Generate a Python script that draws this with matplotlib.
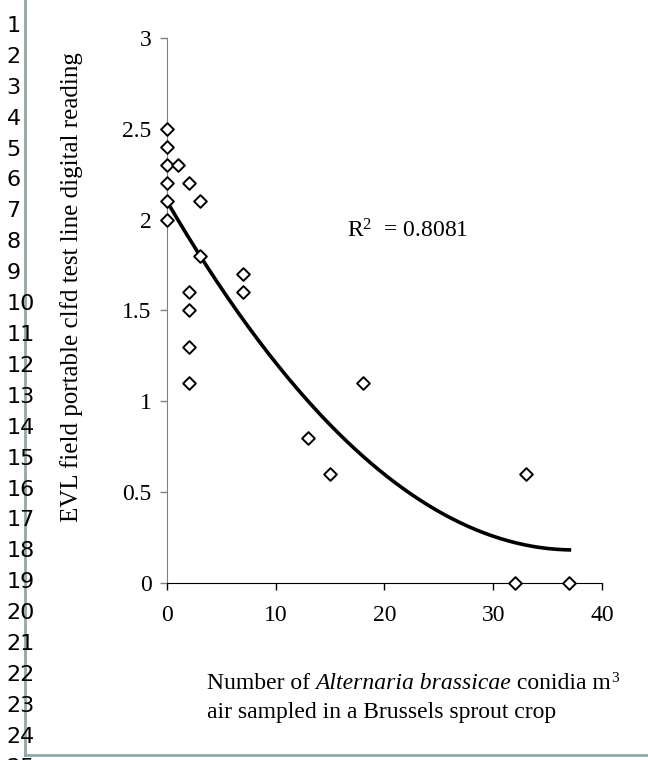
import matplotlib
matplotlib.use("Agg")
import matplotlib.pyplot as plt
import numpy as np

# conidia counts vs EVL readings
conidia = [0, 0, 0, 0, 0, 0, 1, 2, 3, 3, 7, 7, 2, 2, 2, 2, 13, 15, 18, 32, 33, 37]
reading = [2.5, 2.4, 2.3, 2.2, 2.1, 2.0, 2.3, 2.2, 2.1, 1.8, 1.7, 1.6,
           1.6, 1.5, 1.3, 1.1, 0.8, 0.6, 1.1, 0.0, 0.6, 0.0]
x_ticks = [0, 10, 20, 30, 40]
y_ticks = [0, 0.5, 1, 1.5, 2, 2.5, 3]
y_tick_labels = ["0", "0.5", "1", "1.5", "2", "2.5", "3"]
line_numbers = list(range(1, 26))

plt.rcParams["font.family"] = ["Liberation Serif", "DejaVu Serif"]
plt.rcParams["mathtext.fontset"] = "custom"
plt.rcParams["mathtext.rm"] = "Liberation Serif"
plt.rcParams["mathtext.it"] = "Liberation Serif:italic"

fs = 17

fig = plt.figure(figsize=(6.48, 7.6), dpi=100)
ax = fig.add_axes([0.2577, 0.2329, 0.6713, 0.7171])

ax.scatter(conidia, reading, marker="D", s=42, facecolors="white",
           edgecolors="black", linewidths=1.4, zorder=3, clip_on=False)

# second order polynomial trendline (as in the spreadsheet)
coef = np.polyfit(conidia, reading, 2)
xs = np.linspace(0, max(conidia), 200)
ax.plot(xs, np.polyval(coef, xs), color="black", lw=2.6, zorder=2)

ax.set_xlim(0, 40)
ax.set_ylim(0, 3)
ax.set_xticks(x_ticks)
ax.set_yticks(y_ticks)
ax.set_yticklabels(y_tick_labels)
ax.tick_params(axis="both", direction="out", length=5, width=1,
               labelsize=fs, colors="black")
ax.tick_params(axis="x", pad=11)
ax.tick_params(axis="y", pad=6, color="#808080")
ax.spines["top"].set_visible(False)
ax.spines["right"].set_visible(False)
ax.spines["left"].set_color("#808080")
ax.spines["bottom"].set_color("black")

ax.text(0.413, 0.634, r"R$^2$  = 0.8081", transform=ax.transAxes,
        fontsize=fs, ha="left", va="baseline")

fig.text(0.110, 0.622, "EVL field portable clfd test line digital reading",
         rotation=90, ha="center", va="center", fontsize=18)

# x axis caption: two lines, second word group in italics
t1 = fig.text(0.319, 1 - 689 / 760, "Number of ", fontsize=fs,
              ha="left", va="baseline")
t2 = ax.annotate("Alternaria brassicae", xy=(1, 0), xycoords=t1,
                 fontsize=fs, style="italic", ha="left", va="bottom",
                 annotation_clip=False)
t3 = ax.annotate(" conidia m", xy=(1, 0), xycoords=t2, fontsize=fs,
                 ha="left", va="bottom", annotation_clip=False)
ax.annotate("3", xy=(1, 0.45), xycoords=t3, fontsize=fs * 0.65,
            ha="left", va="bottom", annotation_clip=False)
fig.text(0.319, 1 - 718 / 760, "air sampled in a Brussels sprout crop",
         fontsize=fs, ha="left", va="baseline")

# manuscript line numbering and margin rules
for i, n in enumerate(line_numbers):
    fig.text(0.010, 1 - (26 + i * 30.9) / 760, str(n), ha="left", va="center",
             fontsize=16, family=["DejaVu Sans"])
fig.add_artist(plt.Line2D([0.039, 0.039], [0.007, 1.0], color="#8FA9AA",
                          lw=2, transform=fig.transFigure))
fig.add_artist(plt.Line2D([0.039, 1.0], [0.007, 0.007], color="#8FA9AA",
                          lw=2, transform=fig.transFigure))

fig.savefig("out.png", dpi=100)
